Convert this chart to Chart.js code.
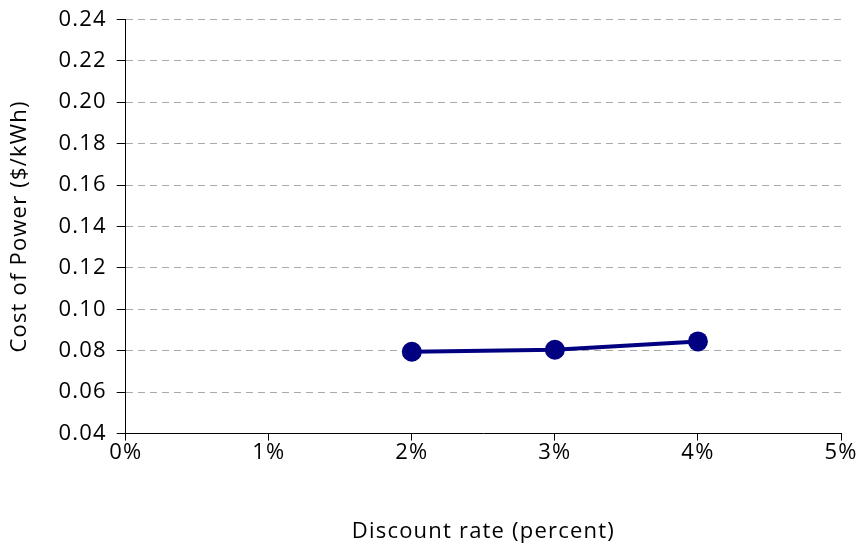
<!DOCTYPE html>
<html>
<head>
<meta charset="utf-8">
<script src="https://cdn.jsdelivr.net/npm/chart.js@4"></script>
<style>
  html, body { margin: 0; padding: 0; background: #fff; }
  #wrap { width: 865px; height: 549px; }
</style>
</head>
<body>
<div id="wrap"><canvas id="costChart" width="865" height="549"></canvas></div>
<script>
// discount rate (percent) vs cost of power ($/kWh)
const discountRates = [2, 3, 4];
const costOfPower = [0.0795, 0.0805, 0.0845];
const xTicks = [0, 1, 2, 3, 4, 5];
const yTicks = [0.04, 0.06, 0.08, 0.10, 0.12, 0.14, 0.16, 0.18, 0.20, 0.22, 0.24];

const FONT = '"Open Sans", Lato, sans-serif';
const SIZE = 22;
const SPACING = '1.2px';

// the original text is set a bit wide, so add some letter spacing on the canvas
const spacingPlugin = {
    id: 'spacing',
    beforeUpdate: chart => { chart.ctx.letterSpacing = SPACING; },
    beforeDraw: chart => { chart.ctx.letterSpacing = SPACING; }
};

const ctx = document.getElementById('costChart').getContext('2d');

const costChart = new Chart(ctx, {
    type: 'line',
    data: {
        datasets: [{
            label: 'Cost of Power',
            data: discountRates.map((r, i) => ({ x: r, y: costOfPower[i] })),
            borderColor: '#000080',
            backgroundColor: '#000080',
            borderWidth: 4,
            pointRadius: 10,
            pointHoverRadius: 10,
            pointBorderWidth: 0,
            tension: 0
        }]
    },
    plugins: [spacingPlugin],
    options: {
        responsive: false,
        animation: false,
        layout: { padding: { top: 1, right: 24, left: 7, bottom: 4 } },
        plugins: {
            legend: { display: false },
            tooltip: { enabled: false }
        },
        scales: {
            x: {
                type: 'linear',
                min: xTicks[0],
                max: xTicks[xTicks.length - 1],
                afterBuildTicks: axis => { axis.ticks = xTicks.map(v => ({ value: v })); },
                ticks: {
                    color: '#000',
                    font: { family: FONT, size: SIZE, lineHeight: 1.0 },
                    padding: 1,
                    callback: v => v + '%'
                },
                grid: { drawOnChartArea: false, drawTicks: true, tickLength: 7, tickColor: '#000' },
                border: { color: '#000', width: 1 },
                title: {
                    display: true,
                    text: 'Discount rate (percent)',
                    color: '#000',
                    font: { family: FONT, size: SIZE },
                    padding: { top: 54, bottom: 0 }
                }
            },
            y: {
                min: yTicks[0],
                max: yTicks[yTicks.length - 1],
                afterBuildTicks: axis => { axis.ticks = yTicks.map(v => ({ value: v })); },
                ticks: {
                    color: '#000',
                    font: { family: FONT, size: SIZE, lineHeight: 0.85 },
                    padding: 10,
                    callback: v => v.toFixed(2)
                },
                grid: { color: '#aaa', tickColor: '#000', tickLength: 9, drawTicks: true },
                border: { color: '#000', width: 1, dash: [7, 5] },
                title: {
                    display: true,
                    text: 'Cost of Power ($/kWh)',
                    color: '#000',
                    font: { family: FONT, size: SIZE },
                    padding: { top: 0, bottom: 15 }
                }
            }
        }
    }
});
</script>
</body>
</html>
